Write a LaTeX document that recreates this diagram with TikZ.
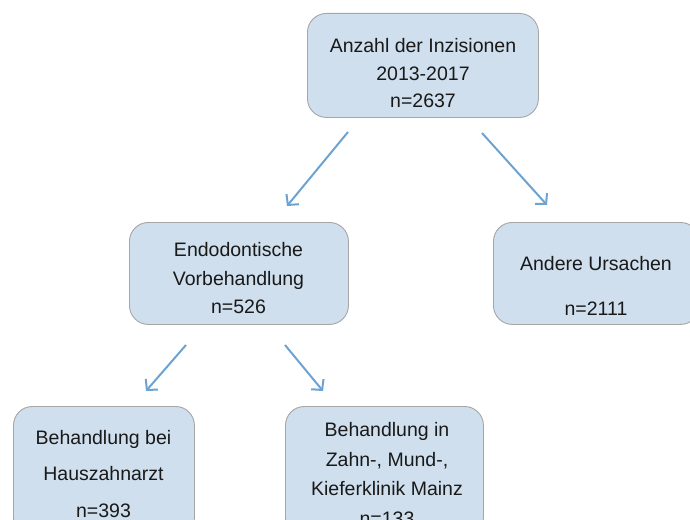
\documentclass[tikz,border=0pt]{standalone}
\usepackage{fontspec}
\setmainfont{Liberation Sans}
\usetikzlibrary{arrows.meta}
\definecolor{boxfill}{RGB}{207,223,238}
\definecolor{boxline}{RGB}{166,166,166}
\definecolor{arrowblue}{RGB}{108,163,210}
\tikzset{
  box/.style={draw=boxline, line width=0.9pt, fill=boxfill, rounded corners=19pt,
    anchor=north west, inner sep=0pt},
  label/.style={align=center, inner sep=0pt, text=black!90},
  conn/.style={draw=arrowblue, line width=2pt,
    -{Straight Barb[length=7.5pt,width=16pt,line width=2pt]}}
}
\begin{document}
\begin{tikzpicture}[x=1pt,y=-1pt]
\useasboundingbox (0,0) rectangle (690,519);
\clip (0,0) rectangle (690,519);
% boxes
\node[box, minimum width=231pt, minimum height=104pt] (top) at (307,13) {};
\node[box, minimum width=219pt, minimum height=102pt] (endo) at (129,222) {};
\node[box, minimum width=206pt, minimum height=102pt] (andere) at (493,222) {};
\node[box, minimum width=181pt, minimum height=130pt] (haus) at (13,406) {};
\node[box, minimum width=198pt, minimum height=130pt] (klinik) at (285,406) {};
% texts
\node[label, font=\fontsize{19.5}{27.5}\selectfont] (toptxt) at (423,73.5)
  {Anzahl der Inzisionen\\2013-2017\\n=2637};
\node[label, font=\fontsize{19.5}{28.5}\selectfont] (endotxt) at (238.5,278.5)
  {Endodontische\\Vorbehandlung\\n=526};
\node[label, font=\fontsize{19.5}{45}\selectfont] (anderetxt) at (596,285.5)
  {Andere Ursachen\\n=2111};
\node[label, font=\fontsize{19.5}{36.5}\selectfont] (haustxt) at (103.5,474)
  {Behandlung bei\\Hauszahnarzt\\n=393};
\node[label, font=\fontsize{19.5}{29.5}\selectfont] (klinitxt) at (387,473.8)
  {Behandlung in\\Zahn-, Mund-,\\Kieferklinik Mainz\\n=133};
% arrow ends
\coordinate (a1s) at (348,132);
\coordinate (a1e) at (287,206);
\coordinate (a2s) at (482,133);
\coordinate (a2e) at (547,205);
\coordinate (a3s) at (186,345);
\coordinate (a3e) at (146,391);
\coordinate (a4s) at (285,345);
\coordinate (a4e) at (323,391);
\draw[conn] (a1s) -- (a1e);
\draw[conn] (a2s) -- (a2e);
\draw[conn] (a3s) -- (a3e);
\draw[conn] (a4s) -- (a4e);
\end{tikzpicture}
\end{document}
